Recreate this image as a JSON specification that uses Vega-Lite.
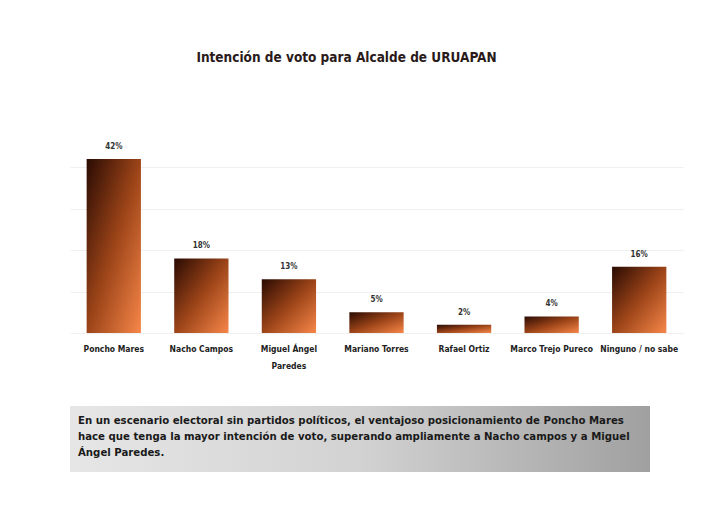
{
  "$schema": "https://vega.github.io/schema/vega-lite/v6.json",
  "background": "white",
  "padding": {"left": 70, "top": 50, "right": 5, "bottom": 5},
  "config": {
    "font": "DejaVu Sans Condensed",
    "view": {"stroke": null}
  },
  "spacing": 36,
  "vconcat": [
    {
      "width": 613,
      "height": 207,
      "title": {
        "text": "Intención de voto para Alcalde de URUAPAN",
        "font": "DejaVu Sans Condensed",
        "fontSize": 13.5,
        "fontWeight": "bold",
        "color": "#2a1a1a",
        "anchor": "middle",
        "dx": -30,
        "offset": 62
      },
      "data": {
        "values": [
          {"candidato": "Poncho Mares", "valor": 0.42},
          {"candidato": "Nacho Campos", "valor": 0.18},
          {"candidato": "Miguel Ángel Paredes", "valor": 0.13},
          {"candidato": "Mariano Torres", "valor": 0.05},
          {"candidato": "Rafael Ortiz", "valor": 0.02},
          {"candidato": "Marco Trejo Pureco", "valor": 0.04},
          {"candidato": "Ninguno / no sabe", "valor": 0.16}
        ]
      },
      "encoding": {
        "x": {
          "field": "candidato",
          "type": "nominal",
          "sort": null,
          "scale": {"paddingInner": 0.38, "paddingOuter": 0.19},
          "axis": {
            "title": null,
            "labelAngle": 0,
            "ticks": false,
            "domain": false,
            "labelPadding": 11,
            "labelFont": "DejaVu Sans Condensed",
            "labelFontSize": 8.5,
            "labelFontWeight": "bold",
            "labelColor": "#222222",
            "labelLineHeight": 17,
            "labelExpr": "datum.value == 'Miguel Ángel Paredes' ? ['Miguel Ángel', 'Paredes'] : datum.value"
          }
        },
        "y": {
          "field": "valor",
          "type": "quantitative",
          "scale": {"domain": [0, 0.5]},
          "axis": {
            "title": null,
            "labels": false,
            "ticks": false,
            "domain": false,
            "values": [0, 0.1, 0.2, 0.3, 0.4],
            "gridColor": "#f0f0f0",
            "gridWidth": 1
          }
        }
      },
      "layer": [
        {
          "mark": {
            "type": "bar",
            "color": {
              "gradient": "linear",
              "x1": 0, "y1": 0, "x2": 1, "y2": 1,
              "stops": [
                {"offset": 0, "color": "#2a0b03"},
                {"offset": 0.5, "color": "#9c4418"},
                {"offset": 1, "color": "#f7874a"}
              ]
            }
          }
        },
        {
          "mark": {
            "type": "text",
            "baseline": "bottom",
            "dy": -8,
            "font": "DejaVu Sans Condensed",
            "fontSize": 8,
            "fontWeight": "bold",
            "color": "#333333"
          },
          "encoding": {
            "text": {"field": "valor", "type": "quantitative", "format": ".0%"}
          }
        }
      ]
    },
    {
      "width": 580,
      "height": 66,
      "title": {
        "text": [
          "En un escenario electoral sin partidos políticos, el ventajoso posicionamiento de Poncho Mares",
          "hace que tenga la mayor intención de voto, superando ampliamente a Nacho campos y a Miguel",
          "Ángel Paredes."
        ],
        "anchor": "start",
        "frame": "group",
        "orient": "top",
        "baseline": "top",
        "offset": -52,
        "dx": 8,
        "font": "DejaVu Sans Condensed",
        "fontSize": 11.3,
        "fontWeight": "bold",
        "color": "#1a1a1a",
        "lineHeight": 16
      },
      "data": {"values": [{"caja": "nota"}]},
      "mark": {
        "type": "rect",
        "stroke": "#555555",
        "strokeWidth": 0,
        "color": {
          "gradient": "linear",
          "x1": 0, "y1": 0, "x2": 1, "y2": 0,
          "stops": [
            {"offset": 0, "color": "#e6e6e6"},
            {"offset": 0.5, "color": "#d2d2d2"},
            {"offset": 1, "color": "#a0a0a0"}
          ]
        }
      },
      "encoding": {}
    }
  ]
}
